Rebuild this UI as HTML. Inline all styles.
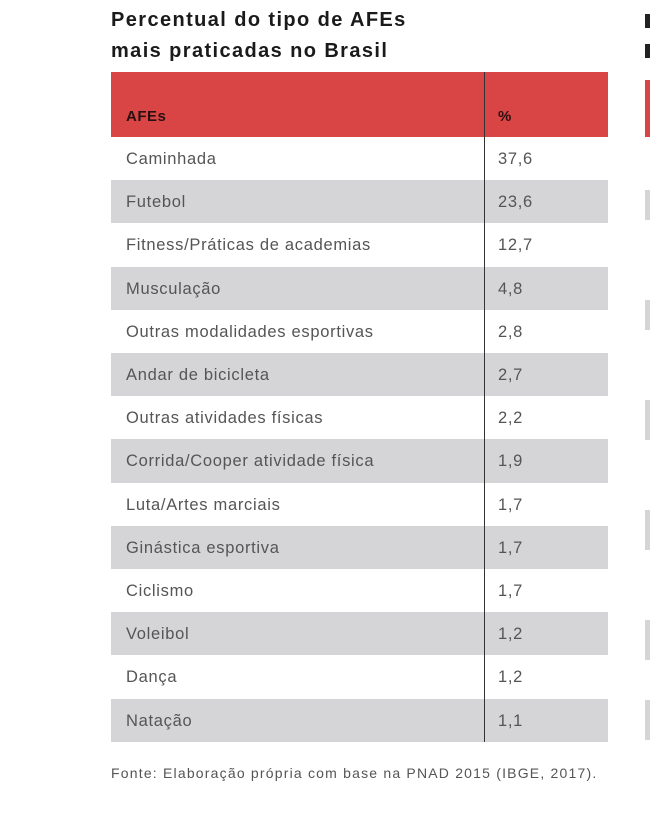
<!DOCTYPE html>
<html><head><meta charset="utf-8"><style>
body{margin:0;width:650px;height:813px;background:#fff;position:relative;overflow:hidden;font-family:"Liberation Sans",sans-serif;}
.t{position:absolute;left:111px;font-weight:bold;font-size:20px;color:#1a1a1a;letter-spacing:1.4px;}
.hd{position:absolute;left:111px;top:72px;width:497px;height:65px;background:#d94445;}
.hd span{position:absolute;top:36px;font-weight:bold;font-size:15px;color:#2a1010;letter-spacing:0.5px;}
.row{position:absolute;left:111px;width:497px;height:43.2px;font-size:16.5px;color:#555;letter-spacing:0.7px;}
.row span{position:absolute;top:13px;}
.g{background:#d5d5d7;}
.div{position:absolute;left:484px;top:72px;width:1px;height:670px;background:#333;}
.foot{position:absolute;left:111px;top:765px;font-size:14px;color:#555;letter-spacing:1.2px;}
</style></head><body>
<div class="t" style="top:9px">Percentual do tipo de AFEs</div>
<div class="t" style="top:40px">mais praticadas no Brasil</div>
<div class="hd"><span style="left:15px">AFEs</span><span style="left:387px">%</span></div>
<div class="row" style="top:137px"><span style="left:15px">Caminhada</span><span style="left:387px">37,6</span></div>
<div class="row g" style="top:180.2px"><span style="left:15px">Futebol</span><span style="left:387px">23,6</span></div>
<div class="row" style="top:223.4px"><span style="left:15px">Fitness/Práticas de academias</span><span style="left:387px">12,7</span></div>
<div class="row g" style="top:266.6px"><span style="left:15px">Musculação</span><span style="left:387px">4,8</span></div>
<div class="row" style="top:309.8px"><span style="left:15px">Outras modalidades esportivas</span><span style="left:387px">2,8</span></div>
<div class="row g" style="top:353px"><span style="left:15px">Andar de bicicleta</span><span style="left:387px">2,7</span></div>
<div class="row" style="top:396.2px"><span style="left:15px">Outras atividades físicas</span><span style="left:387px">2,2</span></div>
<div class="row g" style="top:439.4px"><span style="left:15px">Corrida/Cooper atividade física</span><span style="left:387px">1,9</span></div>
<div class="row" style="top:482.6px"><span style="left:15px">Luta/Artes marciais</span><span style="left:387px">1,7</span></div>
<div class="row g" style="top:525.8px"><span style="left:15px">Ginástica esportiva</span><span style="left:387px">1,7</span></div>
<div class="row" style="top:569px"><span style="left:15px">Ciclismo</span><span style="left:387px">1,7</span></div>
<div class="row g" style="top:612.2px"><span style="left:15px">Voleibol</span><span style="left:387px">1,2</span></div>
<div class="row" style="top:655.4px"><span style="left:15px">Dança</span><span style="left:387px">1,2</span></div>
<div class="row g" style="top:698.6px"><span style="left:15px">Natação</span><span style="left:387px">1,1</span></div>
<div class="div"></div>
<div class="foot">Fonte: Elaboração própria com base na PNAD 2015 (IBGE, 2017).</div>
<div style="position:absolute;left:645px;top:14px;width:5px;height:14px;background:#222"></div>
<div style="position:absolute;left:645px;top:44px;width:5px;height:14px;background:#222"></div>
<div style="position:absolute;left:645px;top:80px;width:5px;height:57px;background:#d94445"></div>
<div style="position:absolute;left:645px;top:190px;width:5px;height:30px;background:#d5d5d7"></div>
<div style="position:absolute;left:645px;top:300px;width:5px;height:30px;background:#d5d5d7"></div>
<div style="position:absolute;left:645px;top:400px;width:5px;height:40px;background:#d5d5d7"></div>
<div style="position:absolute;left:645px;top:510px;width:5px;height:40px;background:#d5d5d7"></div>
<div style="position:absolute;left:645px;top:620px;width:5px;height:40px;background:#d5d5d7"></div>
<div style="position:absolute;left:645px;top:700px;width:5px;height:40px;background:#d5d5d7"></div>
</body></html>
